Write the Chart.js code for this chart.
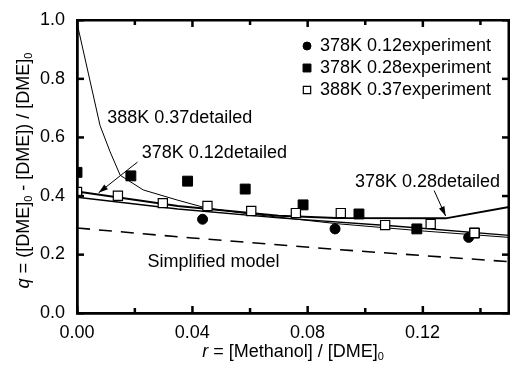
<!DOCTYPE html>
<html><head><meta charset="utf-8">
<script src="https://cdn.jsdelivr.net/npm/chart.js@4.4.1/dist/chart.umd.min.js"></script>
<style>html,body{margin:0;padding:0;background:#fff;overflow:hidden}#wrap{width:510px;height:370px;overflow:hidden}canvas{display:block}</style>
</head><body><div id="wrap"><canvas id="c" width="510" height="370"></canvas></div>
<script>
// ---- data ----
const exp012X = [0.0, 0.0436, 0.0896, 0.136];
const exp012Y = [0.41, 0.32, 0.287, 0.258];
const exp028X = [0.0, 0.0187, 0.0384, 0.0584, 0.0785, 0.0979, 0.118, 0.138];
const exp028Y = [0.48, 0.468, 0.45, 0.423, 0.369, 0.338, 0.287, 0.273];
const exp037X = [0.0, 0.0142, 0.0298, 0.0453, 0.0605, 0.076, 0.0916, 0.107, 0.1228, 0.138];
const exp037Y = [0.413, 0.40, 0.375, 0.365, 0.348, 0.341, 0.341, 0.30, 0.304, 0.273];
const det037X = [0.0, 0.008, 0.0115, 0.015, 0.023, 0.035, 0.045, 0.06, 0.09, 0.12, 0.15];
const det037Y = [0.99, 0.64, 0.55, 0.47, 0.42, 0.385, 0.358, 0.338, 0.305, 0.28, 0.258];
const det012X = [0.0, 0.035, 0.07, 0.11, 0.15];
const det012Y = [0.395, 0.355, 0.325, 0.297, 0.265];
const det028X = [0.0, 0.035, 0.07, 0.09, 0.128, 0.15];
const det028Y = [0.415, 0.365, 0.332, 0.324, 0.323, 0.362];
const simpX = [0.0, 0.04, 0.09, 0.15];
const simpY = [0.29, 0.256, 0.217, 0.175];
const xTicks = [0.00, 0.04, 0.08, 0.12];
const xMinorTicks = [0.02, 0.06, 0.10, 0.14];
const yTicks = [0.0, 0.2, 0.4, 0.6, 0.8, 1.0];
const legendLabels = ['378K 0.12experiment', '378K 0.28experiment', '388K 0.37experiment'];

const pts = (xs, ys) => xs.map((x, i) => ({x, y: ys[i]}));
const FONT = '"Liberation Sans", Arial, sans-serif';

const annotations = [
  {text: '388K 0.37detailed', x: 0.0105, y: 0.667, arrow: null},
  {text: '378K 0.12detailed', x: 0.0225, y: 0.547, arrow: [0.021, 0.515, 0.0075, 0.41]},
  {text: '378K 0.28detailed', x: 0.0965, y: 0.447, arrow: [0.124, 0.418, 0.128, 0.331]},
  {text: 'Simplified model', x: 0.0245, y: 0.175, arrow: null}
];

// let the plot area reach the right edge (markers near the edge may overflow slightly)
if (Chart.ScatterController) {
  Chart.ScatterController.prototype.getMaxOverflow = function () { return 0; };
}

function seg(ctx, x1, y1, x2, y2) { ctx.beginPath(); ctx.moveTo(x1, y1); ctx.lineTo(x2, y2); ctx.stroke(); }
function box(ctx, x, y, w, h) { ctx.beginPath(); ctx.moveTo(x, y); ctx.lineTo(x + w, y); ctx.lineTo(x + w, y + h); ctx.lineTo(x, y + h); ctx.closePath(); ctx.fill(); }

const overlay = {
  id: 'overlay',
  afterDraw(chart) {
    const ctx = chart.ctx;
    const x = chart.scales.x, y = chart.scales.y;
    const L = x.getPixelForValue(0), R = x.getPixelForValue(0.15);
    const B = y.getPixelForValue(0), T = y.getPixelForValue(1);
    ctx.save();
    ctx.fillStyle = '#000';
    ctx.strokeStyle = '#000';
    const th = 2.5;
    box(ctx, L - 1, T - 1, R - L + 2, th);
    box(ctx, L - 1, B - 1, R - L + 2, th);
    box(ctx, L - 1, T - 1, th, B - T + 2);
    box(ctx, R - 1.5, T - 1, th, B - T + 2);
    xTicks.concat(xMinorTicks).forEach((v, i) => {
      const px = x.getPixelForValue(v);
      const len = i < xTicks.length ? 7 : 5;
      box(ctx, px - 1, B - len, 2.5, len);
      box(ctx, px - 1, T, 2.5, len);
    });
    yTicks.forEach(v => {
      const py = y.getPixelForValue(v);
      box(ctx, L, py - 1, 7, 2.5);
      box(ctx, R - 7, py - 1, 7, 2.5);
    });
    // annotations
    ctx.font = '18px ' + FONT;
    ctx.textBaseline = 'middle';
    ctx.textAlign = 'left';
    annotations.forEach(an => {
      ctx.fillText(an.text, x.getPixelForValue(an.x), y.getPixelForValue(an.y));
      if (an.arrow) {
        const x1 = x.getPixelForValue(an.arrow[0]), y1 = y.getPixelForValue(an.arrow[1]);
        const x2 = x.getPixelForValue(an.arrow[2]), y2 = y.getPixelForValue(an.arrow[3]);
        ctx.lineWidth = 1;
        seg(ctx, x1, y1, x2, y2);
        const ang = Math.atan2(y2 - y1, x2 - x1), AL = 10, W = 0.3;
        ctx.beginPath();
        ctx.moveTo(x2, y2);
        ctx.lineTo(x2 - AL * Math.cos(ang - W), y2 - AL * Math.sin(ang - W));
        ctx.lineTo(x2 - AL * Math.cos(ang + W), y2 - AL * Math.sin(ang + W));
        ctx.closePath(); ctx.fill();
      }
    });
    // legend
    const lx = 307, ly0 = 46, dy = 22;
    chart.data.datasets.slice(0, 3).forEach((ds, i) => {
      const cy = ly0 + i * dy;
      ctx.lineWidth = ds.borderWidth;
      ctx.strokeStyle = ds.borderColor;
      ctx.fillStyle = ds.backgroundColor;
      Chart.helpers.drawPoint(ctx, {pointStyle: ds.pointStyle, radius: ds.pointRadius * 0.8, borderWidth: ds.borderWidth}, lx, cy);
      ctx.fillStyle = '#000';
      ctx.fillText(legendLabels[i], lx + 13, cy);
    });
    // axis titles
    ctx.fillStyle = '#000';
    const drawRich = (parts, px, py) => {
      let w = 0;
      parts.forEach(p => { ctx.font = p.f; w += ctx.measureText(p.t).width; });
      let cx = px - w / 2;
      parts.forEach(p => {
        ctx.font = p.f;
        ctx.textAlign = 'left';
        ctx.fillText(p.t, cx, py + (p.dy || 0));
        cx += ctx.measureText(p.t).width;
      });
    };
    const n = '18px ' + FONT, it = 'italic 18px ' + FONT, sub = '11px ' + FONT;
    ctx.textBaseline = 'alphabetic';
    drawRich([{t: 'r', f: it}, {t: ' = [Methanol] / [DME]', f: n}, {t: '0', f: sub, dy: 3}], (L + R) / 2, 357);
    ctx.translate(29, (T + B) / 2 + 4);
    ctx.rotate(-Math.PI / 2);
    drawRich([{t: 'q', f: it}, {t: ' = ([DME]', f: n}, {t: '0', f: sub, dy: 3}, {t: ' - [DME]) / [DME]', f: n}, {t: '0', f: sub, dy: 3}], 0, 0);
    ctx.restore();
  }
};

new Chart(document.getElementById('c'), {
  type: 'scatter',
  data: {
    datasets: [
      {label: legendLabels[0], data: pts(exp012X, exp012Y), pointStyle: 'circle', pointRadius: 5, backgroundColor: '#000', borderColor: '#000', borderWidth: 1, showLine: false, order: 1},
      {label: legendLabels[1], data: pts(exp028X, exp028Y), pointStyle: 'rect', pointRadius: 7, backgroundColor: '#000', borderColor: '#000', borderWidth: 1, showLine: false, order: 1},
      {label: legendLabels[2], data: pts(exp037X, exp037Y), pointStyle: 'rect', pointRadius: 6.5, backgroundColor: '#fff', borderColor: '#000', borderWidth: 1.2, showLine: false, order: 0},
      {label: '388K 0.37detailed', data: pts(det037X, det037Y), showLine: true, pointRadius: 0, borderColor: '#000', borderWidth: 1, tension: 0, order: 2},
      {label: '378K 0.12detailed', data: pts(det012X, det012Y), showLine: true, pointRadius: 0, borderColor: '#000', borderWidth: 1.3, tension: 0, order: 2},
      {label: '378K 0.28detailed', data: pts(det028X, det028Y), showLine: true, pointRadius: 0, borderColor: '#000', borderWidth: 2, tension: 0, order: 2},
      {label: 'Simplified model', data: pts(simpX, simpY), showLine: true, pointRadius: 0, borderColor: '#000', borderWidth: 1.6, borderDash: [13, 9], tension: 0, order: 2}
    ]
  },
  options: {
    responsive: false,
    animation: false,
    layout: {padding: {top: 20, right: 1, left: 0, bottom: 0}},
    plugins: {legend: {display: false}, tooltip: {enabled: false}},
    scales: {
      x: {
        type: 'linear', min: 0, max: 0.15,
        grid: {display: false}, border: {display: true, color: '#000', width: 2.5},
        afterBuildTicks: s => { s.ticks = xTicks.map(v => ({value: v})); },
        afterFit: s => { s.height = 57; s.paddingRight = 0; s.paddingLeft = 0; },
        ticks: {color: '#000', font: {size: 18, family: FONT}, padding: 1, maxRotation: 0, callback: v => v.toFixed(2)}
      },
      y: {
        min: 0, max: 1.0,
        grid: {display: false}, border: {display: true, color: '#000', width: 2.5},
        afterBuildTicks: s => { s.ticks = yTicks.map(v => ({value: v})); },
        afterFit: s => { s.width = 77; s.paddingTop = 0; s.paddingBottom = 0; },
        ticks: {color: '#000', font: {size: 18, family: FONT}, padding: 4, callback: v => v.toFixed(1)}
      }
    }
  },
  plugins: [overlay]
});
</script></body></html>
